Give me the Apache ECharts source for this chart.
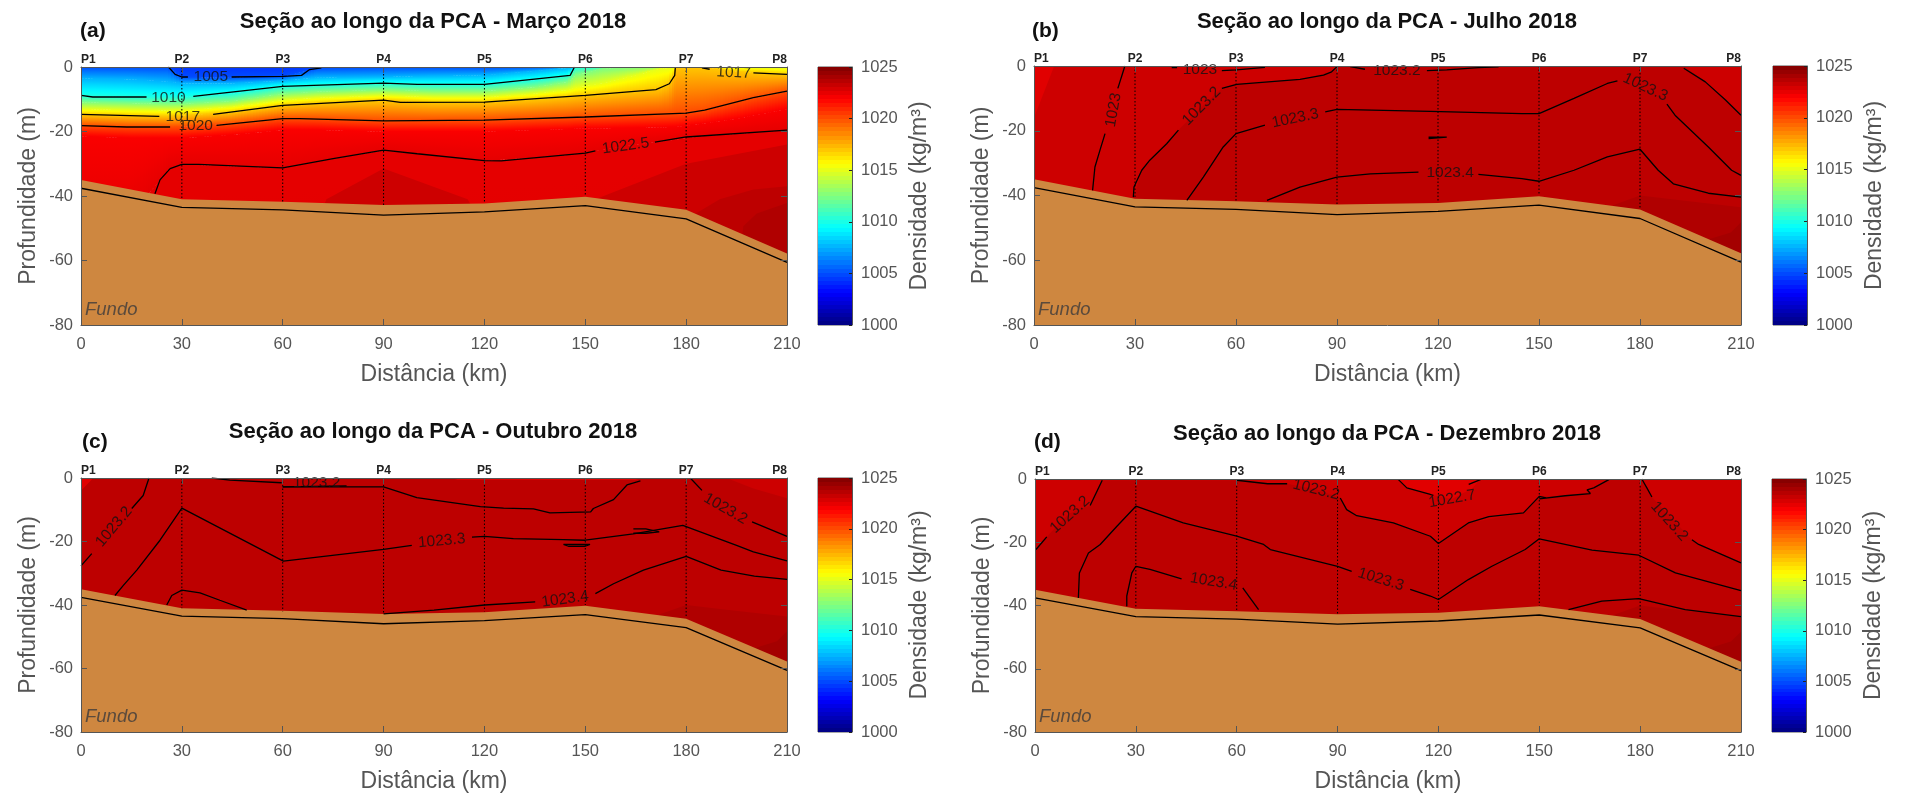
<!DOCTYPE html>
<html>
<head>
<meta charset="utf-8">
<title>Seção ao longo da PCA</title>
<script src="https://cdn.jsdelivr.net/npm/echarts@6/dist/echarts.min.js"></script>
<style>
  html, body { margin: 0; padding: 0; background: #fff; }
  #main { width: 1905px; height: 795px; }
</style>
</head>
<body>
<div id="main"></div>
<script>
const stationNames = ['P1', 'P2', 'P3', 'P4', 'P5', 'P6', 'P7', 'P8']
const stationKm = [30, 60, 90, 120, 150, 180]
const stationBottom = [-41, -42, -43, -42, -40, -44]

// fundo: borda de cima do preenchimento e linha preta
const bedKm = [0, 30, 60, 90, 120, 150, 180, 210]
const bedTop = [-35, -41, -41.8, -42.8, -42.3, -40.2, -44.3, -57.8]
const bedLine = [-37.6, -43.5, -44.3, -45.9, -44.9, -43, -47.1, -60.6]

// (a) isopicnais, uma linha por nivel de densidade
const kmA = [0, 15, 26, 30, 45, 60, 70, 90, 105, 120, 135, 145, 147, 155, 165, 172, 175, 177, 185, 195, 210]
const levelsA = [1004.4, 1005, 1007.5, 1010, 1012.5, 1015, 1017, 1020, 1022, 1022.5, 1022.6]
const isoA = [
    [0, 0, 0, 0, 0, 0, 0, 0, 0, 0, 0, 0, 0, 0, 0, 0, 0, 0, 0, 0, 0],
    [0, 0, 0, -3.1, -3.2, -2.9, -0.3, 0, 0, 0, 0, 0, 0, 0, 0, 0, 0, 0, 0, 0, 0],
    [-3.5, -3.8, -4.5, -5, -5, -4.2, -3.2, -3, -2.7, -2.5, -1.2, -0.2, 0, 0, 0, 0, 0, 0, 0, 0, 0],
    [-8.8, -9.2, -9.3, -9.2, -8.2, -6, -5.6, -5, -5.4, -5.4, -4, -2.6, 0, 0, 0, 0, 0, 0, 0, 0, 0],
    [-10.9, -11.2, -11.4, -11.4, -10.5, -8.2, -7.6, -7, -7.4, -7.4, -6.2, -4.5, -2.5, -0.5, 0, 0, 0, 0, 0, 0, 0],
    [-13, -13.3, -13.4, -13.3, -12.3, -10.2, -9.5, -8.8, -9.3, -9.3, -8.2, -7, -6.3, -5, -2.5, -0.5, -0.2, 0, 0, 0, -0.3],
    [-14.7, -15.1, -15.2, -15, -14, -11.9, -11.2, -10.3, -11, -10.9, -10, -9.2, -9, -8.3, -7.4, -6.7, -5.2, 0, 0, -1.4, -2.3],
    [-18.2, -18.6, -18.6, -18.5, -17.5, -16, -16.1, -16.7, -16.6, -16.5, -16, -15.7, -15.6, -15.3, -14.9, -14.6, -14.5, -14.4, -13.5, -10.8, -7.5],
    [-21.5, -22, -22, -22, -21, -19.5, -19.5, -20, -20, -20, -19.5, -19.2, -19, -19, -18.8, -18.7, -18.6, -18.5, -17.5, -16, -13],
    [-46, -46, -31.5, -30.2, -30.8, -31.3, -29.3, -25.8, -27.5, -29, -28, -27.2, -27, -25.6, -24, -23.1, -22.8, -22.4, -21.4, -20.7, -19.6],
    [-80, -80, -80, -80, -80, -80, -80, -80, -80, -80, -80, -80, -80, -80, -80, -80, -80, -80, -80, -80, -80],
]

// faixas de cor chapadas: [densidade, [km, profundidade]...]
const wedgeUpper = [[0, -70], [165, -70], [172, -43], [180, -40], [192, -41.5], [210, -43.6]]
const wedgeLower = [[0, -70], [195, -70], [199, -54], [207, -51.4], [210, -48.3]]

const bandsA = [
    [1023.1, [[0, -60], [66, -60], [73, -41], [90, -31.5], [115, -41], [125, -60], [145, -60], [153, -41], [180, -30], [210, -24]]],
    [1023.5, [[0, -60], [178, -60], [182, -46], [190, -41], [200, -38], [210, -37]]],
    [1023.8, [[0, -70], [195, -70], [197, -49.4], [201, -45.4], [210, -42.2]]],
]
const bandsB = [
    [1022.6, [[0, 0], [210, 0]]],
    [1023.1, [[0, -16], [6, 0], [210, 0]]],
    [1023.5, [[0, -60], [29, -60], [29.5, -41], [32, -32.2], [39.4, -24], [42.9, -19.8], [50, -12.4], [55.8, -6.9], [60.2, -5.7], [79, -4.1], [88.4, -1.8], [90, 0], [193, 0], [199.4, -4.9], [205.4, -10.5], [210, -15.2]]],
    [1023.8, wedgeUpper],
    [1024.1, wedgeLower],
]
const bandsC = [
    [1022.6, [[0, 0], [210, 0]]],
    [1023.1, [[0, -4], [3.7, 0], [110, 0], [112, -0.6], [165, -0.6], [167, 0], [210, 0]]],
    [1023.5, [[0, -4], [3.7, 0], [110, 0], [112, -0.6], [165, -0.6], [167, 0], [192, 0], [200, -3.3], [210, -6.4]]],
    [1023.8, wedgeUpper],
    [1024.1, wedgeLower],
]
const bandsD = [
    [1022.6, [[0, 0], [210, 0]]],
    [1023.1, [[0, 0], [108.1, 0], [110.6, -2.8], [117.6, -4.9], [124, -6.3], [130, -3], [132.5, 0], [210, 0]]],
    [1023.5, [[0, -22.3], [3.5, -18.3], [10, -11], [16.4, -8.4], [20, -0.4], [60, -0.4], [69, -1.5], [75, -1.5], [84, -3.4], [90.8, -6], [92.7, -9.7], [95.7, -11.6], [106.6, -13.9], [117.6, -18.1], [120, -20.4], [128.9, -13.9], [145.3, -10.7], [150, -5.5], [157.7, -5.3], [165, -4], [170.7, -0.2], [180.5, 0], [183.5, -5.7], [195.4, -19.2], [197.4, -20.7], [210, -26.5]]],
    [1023.8, wedgeUpper],
    [1024.1, wedgeLower],
]

// isolinhas, quebradas onde entra o rotulo
const contoursA = [
    [[26, 0], [28, -2.3], [30, -3.1], [31.8, -3.1]],
    [[44.8, -3.1], [60.2, -2.9], [65.6, -2.6], [68, -0.8], [71.5, -0.3]],
    [[0, -8.8], [3.5, -9.3], [19.5, -9.3]],
    [[33.4, -9.1], [60, -6], [90, -5], [100, -5.4], [120, -5.4], [145.5, -2.6], [146.8, 0]],
    [[0, -14.7], [23.3, -15.3]],
    [[39.3, -14.7], [60, -11.9], [90, -10.3], [95, -11], [120, -10.9], [150, -8.8], [171, -7], [175, -5.2], [176.6, -2.6], [176.8, 0]],
    [[184.7, -0.3], [187, -0.7]],
    [[200, -1.8], [210, -2.3]],
    [[0, -18.2], [13.6, -18.6], [26.5, -18.6]],
    [[40.3, -18.1], [60, -16], [65, -16], [90, -16.7], [120, -16.5], [150, -15.5], [180, -14.3], [185.5, -13.4], [200, -9.5], [210, -7.5]],
    [[22, -39.3], [23.5, -35], [26.5, -31.5], [30, -30.2], [35, -30.2], [60, -31.3], [75, -28.4], [90, -25.8], [100, -26.9], [120, -29], [125, -29.1], [150, -26.7], [153, -26]],
    [[170.7, -23.3], [180, -21.7], [210, -19.6]],
]
const contoursB = [
    [[27, 0], [24.9, -6.9]],
    [[21.1, -20.9], [19.6, -26], [18.1, -31.2], [17.4, -38.4]],
    [[40.9, -0.5], [42.5, -0.5]],
    [[55.8, -1.4], [60.2, -1.2], [68.6, -0.4]],
    [[29.5, -40.5], [29.7, -37.4], [32, -32.2], [34.4, -29.1], [39.4, -24], [42.9, -19.8]],
    [[55.8, -6.9], [60.2, -5.7], [79, -4.1], [86, -2.8], [88.4, -1.8], [90, -0.2]],
    [[93.9, -0.2], [98.3, -1]],
    [[116.7, -1.4], [122.6, -1.2], [132, -0.5], [138, -0.3]],
    [[45.4, -41.5], [50.3, -34.3], [56.2, -25], [60, -20.9], [68.6, -18.3]],
    [[86.5, -14.2], [90, -13.4], [117.7, -14], [144.9, -14.7], [150, -14.7], [160.4, -10], [170.3, -5.4], [173.3, -4.6]],
    [[188, -11.8], [190.4, -15.2], [200.3, -25], [207.2, -32.2], [210, -33.8]],
    [[193, -0.7], [193.4, -1.2], [199.4, -4.9], [205.4, -10.5], [210, -15.2]],
    [[69.2, -41.5], [79, -37.4], [90, -34.3], [99.9, -33.3], [114.2, -32.8]],
    [[132, -33.5], [144.9, -34.8], [150, -35.6], [160.4, -32.2], [170.3, -28.1], [180, -25.7], [185.4, -32.2], [189.9, -36.4], [200.3, -39.3], [210, -40.5]],
    [[117.2, -22], [122.6, -22], [122.6, -22.4], [117.2, -22.4]],
]
const contoursC = [
    [[0, -27.7], [3.2, -23.8]],
    [[15.1, -9.6], [18.5, -5.5], [20, -0.7], [20.2, 0]],
    [[10.1, -37], [12.6, -33.8], [16.6, -29], [23.5, -19.6], [30, -9.5], [60.2, -26.2], [90, -22.5], [98.4, -21.2]],
    [[116.3, -18.6], [120, -18.4], [128.6, -19.1], [143.5, -19.4], [150, -19.6], [164.3, -17.6], [179, -14.9], [195, -21.2], [200, -23.3], [210, -26.1]],
    [[164.3, -16], [168, -16], [172, -17], [168, -17.4], [164.3, -17.4]],
    [[143.5, -20.9], [151.4, -20.9], [150, -21.5], [145, -21.5], [143.5, -20.9]],
    [[38.9, 0], [44.3, -0.7], [59.7, -1.5]],
    [[60, -2.8], [79, -2.5]],
    [[60, -2.8], [90, -2.8], [99.9, -6.2], [118.8, -9], [125.7, -9.5], [134.6, -9.7], [139.5, -11], [151.6, -10.7], [152.4, -9.6], [158.4, -6.8], [162.4, -2.2], [166.4, -0.9]],
    [[181.3, -0.1], [184.7, -3.9]],
    [[199.6, -13.8], [210, -18.4]],
    [[25.5, -40], [27, -37], [30, -35.3], [35.4, -36.2], [41.3, -38.5], [49.3, -41.6]],
    [[90, -42.8], [105, -41.6], [120, -40], [135.1, -39]],
    [[153, -36.4], [158.4, -33.3], [167.3, -29], [180, -24.7], [190.4, -29], [200.3, -30.9], [210, -31.9]],
]
const contoursD = [
    [[0.3, -22.3], [3.5, -18.3]],
    [[16.4, -8.4], [20, -0.4]],
    [[12.9, -37.6], [13.2, -29.7], [15.9, -23.4], [19.4, -20.7], [24.3, -15], [30, -8.6], [44.1, -13.9], [60, -18.1], [68, -20.7], [70, -22.3], [90, -27.6], [94.2, -29.2]],
    [[111.6, -34.9], [117.6, -37], [120, -38.1], [128.9, -31.8], [135.9, -27.6], [145.8, -22.3], [150, -18.9], [165.7, -22.5], [179.6, -24.1], [190.5, -29.7], [210, -35.3]],
    [[60, -0.4], [69.2, -1.5], [75, -1.5]],
    [[90.8, -6], [92.7, -9.7], [95.7, -11.6], [106.6, -13.9], [117.6, -18.1], [120, -20.4], [128.9, -13.9], [135, -11.9], [145.3, -10.7], [150, -5.5], [152, -6], [150, -6.3], [157.7, -5.3], [165.2, -4.6], [164.2, -3.4], [166.2, -2.8], [170.7, -0.2]],
    [[180.5, 0], [182, -2.8], [183.5, -5.7]],
    [[195.4, -19.2], [197.4, -20.7], [210, -26.5]],
    [[108.1, -0.2], [110.6, -2.8], [117.6, -4.9], [118.5, -5.2]],
    [[129, -1.7], [132.5, -0.2]],
    [[27.3, -40.2], [27.3, -37], [28.8, -29.7], [30, -27.6], [34.2, -28.6], [43.6, -31.6]],
    [[61.8, -34.4], [66.5, -41.3]],
    [[158.7, -41.3], [168.6, -38.6], [179.6, -37.8], [193.4, -41.3], [210, -43.5]],
]

// rotulos das isolinhas: [texto, km, profundidade, rotacao]
const labelsA = [
    ['1005', 38.6, -2.9, 0], ['1010', 26, -9.6, 0], ['1017', 30.3, -15.5, 0], ['1020', 34.1, -18.3, 0],
    ['1022.5', 162, -24.5, 8], ['1017', 194.1, -1.8, -3],
]
const labelsB = [
    ['1023', 23.6, -13.6, 80], ['1023', 49.3, -1.3, 0], ['1023.2', 49.8, -12.4, 45], ['1023.2', 107.8, -1.4, 0],
    ['1023.3', 77.6, -16.2, 12], ['1023.3', 181.6, -6.6, -25], ['1023.4', 123.6, -33, 0],
]
const labelsC = [
    ['1023.2', 9.8, -15.4, 50], ['1023.2', 70.1, -1.5, 0], ['1023.3', 107.3, -19.8, 5],
    ['1023.2', 191.7, -9.7, -30], ['1023.4', 144, -38.2, 8],
]
const labelsD = [
    ['1023.2', 10.4, -11.3, 42], ['1023.3', 102.9, -31.8, -17], ['1023.2', 83.6, -3.4, -14],
    ['1023.2', 188.7, -13.4, -48], ['1022.7', 124.1, -6.3, 10], ['1023.4', 53.1, -32.5, -10],
]

const titles = ['Seção ao longo da PCA - Março 2018', 'Seção ao longo da PCA - Julho 2018', 'Seção ao longo da PCA - Outubro 2018', 'Seção ao longo da PCA - Dezembro 2018']
const panelLetters = ['(a)', '(b)', '(c)', '(d)']
const colorbarTop = [1025]

const FONT = '"Liberation Sans", Arial, sans-serif'
const AXIS_COLOR = '#555555'
const TEXT_COLOR = '#555555'

// posicoes em pixels de cada painel
const layouts = [
    { left: 81, top: 67, width: 706, height: 258, barLeft: 818, titleX: 433, titleY: 22, tagX: 80, tagY: 32 },
    { left: 1034, top: 66, width: 707, height: 259, barLeft: 1773, titleX: 1387, titleY: 22, tagX: 1032, tagY: 32 },
    { left: 81, top: 478, width: 706, height: 254, barLeft: 818, titleX: 433, titleY: 432, tagX: 82, tagY: 443 },
    { left: 1035, top: 479, width: 706, height: 253, barLeft: 1772, titleX: 1387, titleY: 434, tagX: 1034, tagY: 443 },
]

// colormap jet do matlab
function jet(v) {
    let t = (v - 1000) / 25
    let ch = (c) => Math.round(255 * Math.max(0, Math.min(1, 1.5 - Math.abs(4 * t - c))))
    return 'rgb(' + ch(3) + ',' + ch(2) + ',' + ch(1) + ')'
}

function jetStops(v0, v1) {
    let stops = []
    for (let i = 0; i <= 6; i++) {
        stops.push({ offset: i / 6, color: jet(v0 + (v1 - v0) * i / 6) })
    }
    return stops
}

// campo do painel (a): faixas entre isopicnais, em fatias finas com gradiente vertical.
// as fatias caem em pixel inteiro para nao aparecer listra entre elas
function renderFieldCell(params, api) {
    let c = api.value(0)
    let b = api.value(1)
    let a0 = api.coord([kmA[c], isoA[b][c]])
    let a1 = api.coord([kmA[c + 1], isoA[b][c + 1]])
    let b1 = api.coord([kmA[c + 1], isoA[b + 1][c + 1]])
    let b0 = api.coord([kmA[c], isoA[b + 1][c]])
    if (Math.abs(b0[1] - a0[1]) + Math.abs(b1[1] - a1[1]) < 0.01) {
        return null
    }
    let n = Math.max(1, Math.ceil((a1[0] - a0[0]) / 3))
    let children = []
    for (let s = 0; s < n; s++) {
        let f0 = s / n
        let f1 = (s + 1) / n
        let fm = (f0 + f1) / 2
        let top = (f) => a0[1] + (a1[1] - a0[1]) * f
        let bot = (f) => b0[1] + (b1[1] - b0[1]) * f
        if (bot(f0) - top(f0) < 0.01 && bot(f1) - top(f1) < 0.01) {
            continue
        }
        let x0 = Math.round(a0[0] + (a1[0] - a0[0]) * f0)
        let x1 = Math.round(a0[0] + (a1[0] - a0[0]) * f1) + 1
        let fill = new echarts.graphic.LinearGradient(x0, top(fm), x0, bot(fm) + 0.01, jetStops(levelsA[b], levelsA[b + 1]), true)
        children.push({
            type: 'polygon',
            shape: { points: [[x0, top(f0)], [x1, top(f1)], [x1, bot(f1) + 0.4], [x0, bot(f0) + 0.4]] },
            style: { fill: fill },
        })
    }
    return { type: 'group', children: children }
}

let fieldCells = []
for (let c = 0; c < kmA.length - 1; c++) {
    for (let b = 0; b < levelsA.length - 1; b++) {
        fieldCells.push([c, b])
    }
}

function pairs(xs, ys) {
    return xs.map((x, i) => [x, ys[i]])
}

function areaSeries(idx, data, color, z) {
    return {
        type: 'line', xAxisIndex: idx * 3, yAxisIndex: idx * 3, data: data, z: z, silent: true,
        showSymbol: false, symbol: 'none', animation: false,
        lineStyle: { width: 0 },
        areaStyle: { origin: 'start', color: color, opacity: 1 },
    }
}

function lineSeries(idx, data, type, width, z) {
    return {
        type: 'line', xAxisIndex: idx * 3, yAxisIndex: idx * 3, data: data, z: z, silent: true,
        showSymbol: false, symbol: 'none', animation: false,
        lineStyle: { color: '#000', width: width, type: type },
    }
}

let option = {
    animation: false,
    backgroundColor: '#ffffff',
    textStyle: { fontFamily: FONT },
    title: [],
    grid: [],
    xAxis: [],
    yAxis: [],
    series: [],
}

function addAxes(idx) {
    let l = layouts[idx]
    let tick = { show: true, inside: true, length: 6, lineStyle: { color: AXIS_COLOR } }
    let line = { show: true, onZero: false, lineStyle: { color: AXIS_COLOR, width: 1 } }
    let tickLabel = { fontSize: 16.5, color: TEXT_COLOR, fontFamily: FONT, formatter: (v) => String(v) }
    option.grid.push({ left: l.left, top: l.top, width: l.width, height: l.height, outerBoundsMode: 'none' })
    option.grid.push({ left: l.left, top: l.top, width: l.width, height: l.height, outerBoundsMode: 'none', show: false })
    option.grid.push({ left: l.barLeft, top: l.top, width: 34, height: l.height, outerBoundsMode: 'none', show: true, backgroundColor: 'transparent', borderColor: AXIS_COLOR, borderWidth: 1 })

    // distancia embaixo, estacoes em cima; profundidade a esquerda
    option.xAxis.push({
        type: 'value', gridIndex: idx * 3, min: 0, max: 210, interval: 30, z: 10, position: 'bottom',
        axisLine: line, axisTick: tick, splitLine: { show: false },
        axisLabel: { ...tickLabel, margin: 11 },
        name: 'Distância (km)', nameLocation: 'middle', nameGap: 38,
        nameTextStyle: { fontSize: 23, color: TEXT_COLOR, fontFamily: FONT },
    })
    option.yAxis.push({
        type: 'value', gridIndex: idx * 3, min: -80, max: 0, interval: 20, z: 10, position: 'left',
        axisLine: line, axisTick: tick, splitLine: { show: false },
        axisLabel: { ...tickLabel, margin: 8 },
        name: 'Profundidade (m)', nameLocation: 'middle', nameGap: 41, nameRotate: 90,
        nameTextStyle: { fontSize: 23, color: TEXT_COLOR, fontFamily: FONT },
    })
    option.xAxis.push({
        type: 'value', gridIndex: idx * 3 + 1, min: 0, max: 210, interval: 30, z: 10, position: 'top',
        axisLine: line, axisTick: tick, splitLine: { show: false },
        axisLabel: {
            fontSize: 12, fontWeight: 'bold', color: '#222', fontFamily: FONT, margin: 1,
            alignMinLabel: 'left', alignMaxLabel: 'right',
            formatter: (v) => stationNames[v / 30],
        },
    })
    option.yAxis.push({
        type: 'value', gridIndex: idx * 3 + 1, min: -80, max: 0, interval: 20, z: 10, position: 'right',
        axisLine: line, axisTick: tick, axisLabel: { show: false }, splitLine: { show: false },
    })
    // barra de cores
    option.xAxis.push({ type: 'category', gridIndex: idx * 3 + 2, data: [''], show: false })
    option.yAxis.push({
        type: 'value', gridIndex: idx * 3 + 2, min: 1000, max: 1025, interval: 5, position: 'right', z: 10,
        axisLine: line, splitLine: { show: false },
        axisTick: { show: true, inside: true, length: 3, lineStyle: { color: '#222' } },
        axisLabel: { ...tickLabel, margin: 9 },
        name: 'Densidade (kg/m³)', nameLocation: 'middle', nameGap: 56, nameRotate: 90,
        nameTextStyle: { fontSize: 23, color: TEXT_COLOR, fontFamily: FONT },
    })
}

function addTitles(idx) {
    let l = layouts[idx]
    option.title.push({
        text: titles[idx], left: l.titleX, top: l.titleY - 11, textAlign: 'center', padding: 0,
        textStyle: { fontSize: 22, fontWeight: 'bold', color: '#111', fontFamily: FONT },
    })
    option.title.push({
        text: panelLetters[idx], left: l.tagX, top: l.tagY - 11, padding: 0,
        textStyle: { fontSize: 21, fontWeight: 'bold', color: '#111', fontFamily: FONT },
    })
    option.title.push({
        text: 'Fundo', left: l.left + 4, top: l.top + l.height - 25, padding: 0,
        textStyle: { fontSize: 18.5, fontStyle: 'italic', fontWeight: 'normal', color: '#5a4a3c', fontFamily: FONT },
    })
}

function addColorbar(idx) {
    let stops = []
    for (let i = 0; i < 64; i++) {
        // de cima para baixo, degraus como o colormap de 64 cores
        let v = 1025 - (i + 0.5) * 25 / 64
        stops.push({ offset: i / 64, color: jet(v) })
        stops.push({ offset: (i + 1) / 64, color: jet(v) })
    }
    option.series.push({
        type: 'bar', xAxisIndex: idx * 3 + 2, yAxisIndex: idx * 3 + 2, data: colorbarTop,
        barWidth: '100%', silent: true, animation: false,
        itemStyle: { color: new echarts.graphic.LinearGradient(0, 0, 0, 1, stops) },
    })
}

function addPanel(idx, bands, contours, labels) {
    bands.forEach((band, i) => {
        option.series.push(areaSeries(idx, band[1], jet(band[0]), 2 + i * 0.1))
    })
    option.series.push(areaSeries(idx, pairs(bedKm, bedTop), '#ce8740', 4))
    option.series.push(lineSeries(idx, pairs(bedKm, bedLine), 'solid', 1.3, 5))
    stationKm.forEach((km, i) => {
        option.series.push(lineSeries(idx, [[km, 0], [km, stationBottom[i]]], [1.5, 2], 1, 5))
    })
    contours.forEach((c) => {
        option.series.push(lineSeries(idx, c, 'solid', 1.3, 5))
    })
    option.series.push({
        type: 'scatter', xAxisIndex: idx * 3, yAxisIndex: idx * 3, z: 6, silent: true, animation: false,
        symbolSize: 1, itemStyle: { color: 'transparent' },
        data: labels.map((t) => ({
            value: [t[1], t[2]],
            label: {
                show: true, position: 'inside', formatter: t[0], rotate: t[3],
                fontSize: 15.5, color: '#111', fontFamily: FONT,
            },
        })),
    })
}

for (let i = 0; i < 4; i++) {
    addAxes(i)
    addTitles(i)
    addColorbar(i)
}

// painel (a) leva o campo em gradiente por baixo das faixas
option.series.push({
    type: 'custom', xAxisIndex: 0, yAxisIndex: 0, z: 1, silent: true, animation: false,
    coordinateSystem: 'cartesian2d', clip: true,
    renderItem: renderFieldCell, data: fieldCells,
})
addPanel(0, bandsA, contoursA, labelsA)
addPanel(1, bandsB, contoursB, labelsB)
addPanel(2, bandsC, contoursC, labelsC)
addPanel(3, bandsD, contoursD, labelsD)

let chart = echarts.init(document.getElementById('main'))
chart.setOption(option)
</script>
</body>
</html>
